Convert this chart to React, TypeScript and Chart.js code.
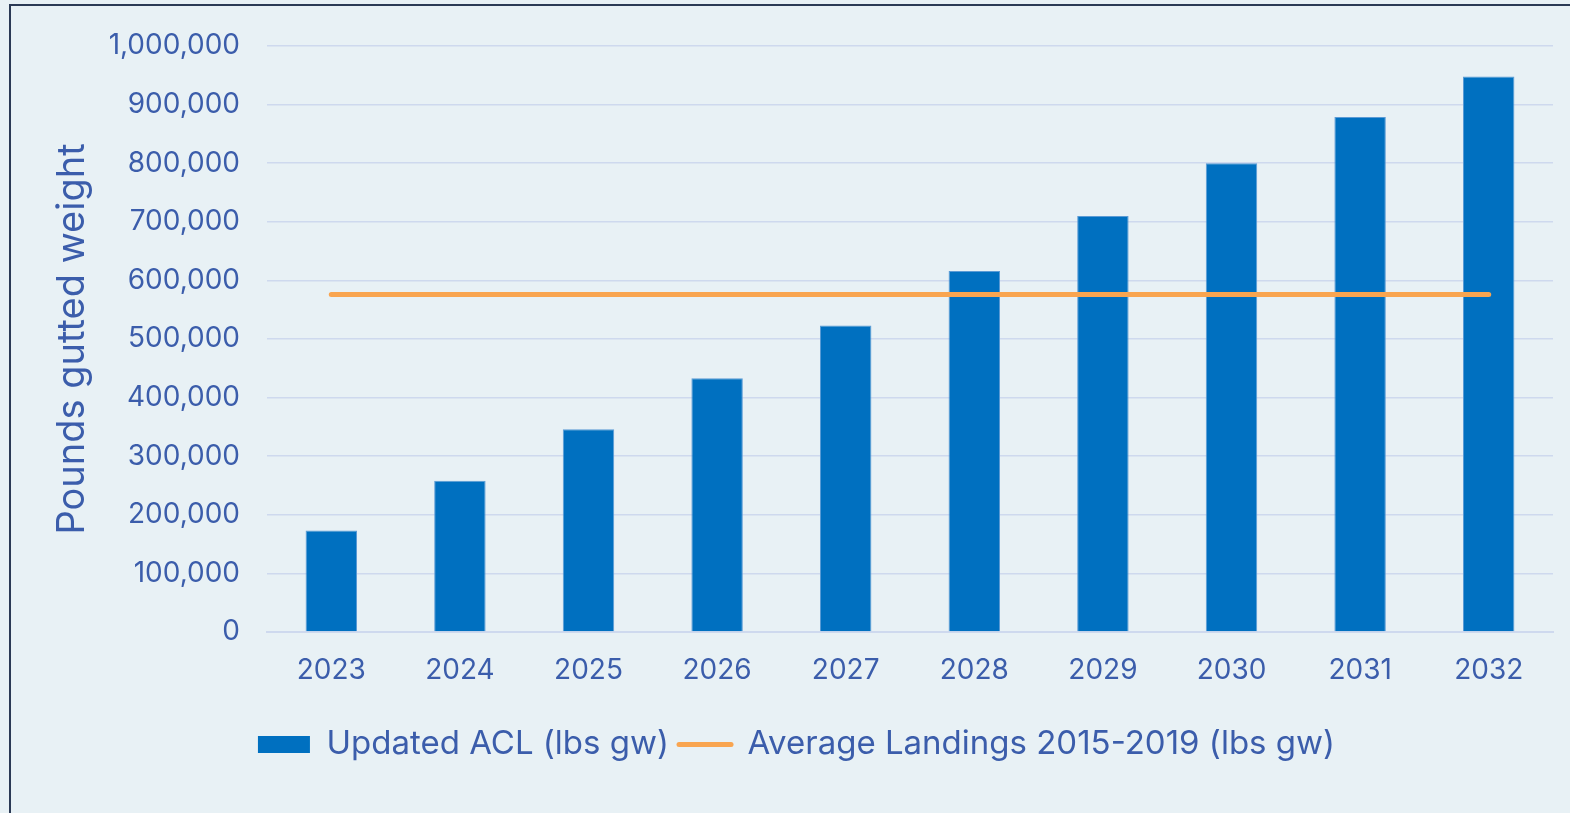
import React, { useEffect, useRef } from 'react';
import { Chart, registerables } from 'chart.js';

Chart.register(...registerables);

const years = ['2023', '2024', '2025', '2026', '2027', '2028', '2029', '2030', '2031', '2032'];
const aclValues = [173000, 258000, 346000, 433000, 523000, 616000, 710000, 800000, 879000, 948000];
const avgLandings = [576000, 576000, 576000, 576000, 576000, 576000, 576000, 576000, 576000, 576000];
const yMin = 0;
const yMax = 1000000;
const yStep = 100000;
const seriesLabels = ['Updated ACL (lbs gw)', 'Average Landings 2015-2019 (lbs gw)'];
const yAxisTitle = 'Pounds gutted weight';

const TEXT = '#3B5DAB';
const GRID = '#CED9EE';
const BAR = '#0070C0';
const BAR_EDGE = '#5B9BD5';
const LINE = '#F9A550';
const BG = '#E8F1F5';
const FONT = 'Inter, "Open Sans", sans-serif';

export default function App() {
  const ref = useRef<HTMLCanvasElement | null>(null);

  useEffect(() => {
    document.body.style.margin = '0';
    document.body.style.background = BG;
    const canvas = ref.current;
    if (!canvas) return;
    const chart = new Chart(canvas, {
      data: {
        labels: years,
        datasets: [
          {
            type: 'bar',
            label: seriesLabels[0],
            data: aclValues,
            backgroundColor: BAR,
            borderColor: BAR_EDGE,
            borderWidth: 1,
            barPercentage: 0.4,
            categoryPercentage: 1,
            order: 1,
          },
          {
            type: 'line',
            label: seriesLabels[1],
            data: avgLandings,
            borderColor: LINE,
            backgroundColor: LINE,
            borderWidth: 5,
            borderCapStyle: 'round',
            pointRadius: 0,
            pointHoverRadius: 0,
            order: 0,
          },
        ],
      } as any,
      options: {
        animation: false,
        responsive: false,
        maintainAspectRatio: false,
        layout: { padding: { left: 40, right: 17, top: 46, bottom: 42 } },
        plugins: {
          tooltip: { enabled: false },
          legend: {
            position: 'bottom',
            labels: {
              usePointStyle: true,
              pointStyleWidth: 52,
              boxHeight: 17,
              padding: 10,
              color: TEXT,
              font: { family: FONT, size: 33 },
              sort: (a: any, b: any) => a.datasetIndex - b.datasetIndex,
              generateLabels: (c: any) =>
                c.data.datasets.map((ds: any, i: number) => ({
                  text: ds.label,
                  fillStyle: ds.type === 'bar' ? BAR : LINE,
                  strokeStyle: ds.type === 'bar' ? BAR : LINE,
                  lineWidth: ds.type === 'bar' ? 0 : 5,
                  lineCap: 'round',
                  pointStyle: ds.type === 'bar' ? 'rect' : 'line',
                  fontColor: TEXT,
                  hidden: false,
                  datasetIndex: i,
                })),
            },
          },
        },
        scales: {
          x: {
            grid: { display: false, drawTicks: false },
            border: { display: true, color: GRID, width: 2 },
            ticks: { color: TEXT, font: { family: FONT, size: 28 }, padding: 22, maxRotation: 0 },
            afterFit: (s: any) => {
              s.height = 86;
            },
          },
          y: {
            min: yMin,
            max: yMax,
            grid: { color: GRID, lineWidth: 1.5, drawTicks: false },
            border: { display: false },
            ticks: {
              stepSize: yStep,
              color: TEXT,
              padding: 27,
              font: { family: FONT, size: 28 },
              callback: (v: any) => Number(v).toLocaleString('en-US'),
            },
            title: {
              display: true,
              text: yAxisTitle,
              color: TEXT,
              font: { family: FONT, size: 38 },
              padding: { top: 10, bottom: 0 },
            },
            afterFit: (s: any) => {
              s.width = 227;
            },
          },
        },
      } as any,
    });
    return () => chart.destroy();
  }, []);

  return (
    <div style={{ position: 'fixed', left: 0, top: 0, width: 1570, height: 813, background: BG, overflow: 'hidden' }}>
      <div
        style={{
          position: 'absolute',
          left: 9,
          top: 4,
          width: 1600,
          height: 900,
          borderLeft: '2px solid #2B3A55',
          borderTop: '2px solid #2B3A55',
          boxSizing: 'border-box',
        }}
      />
      <canvas ref={ref} width={1570} height={813} style={{ position: 'absolute', left: 0, top: 0, width: 1570, height: 813 }} />
    </div>
  );
}
